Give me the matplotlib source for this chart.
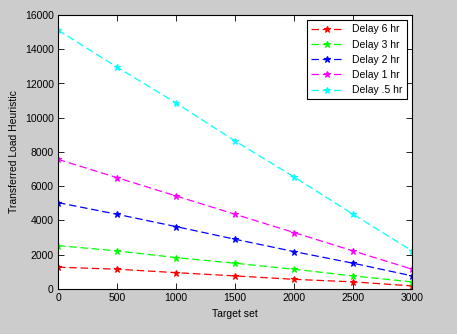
import numpy as np
import matplotlib
matplotlib.use("Agg")
import matplotlib.pyplot as plt

# data
target_set = [0, 500, 1000, 1500, 2000, 2500, 3000]
delay_6 = [1270, 1150, 950, 760, 560, 410, 175]
delay_3 = [2530, 2220, 1830, 1500, 1150, 760, 410]
delay_2 = [5040, 4360, 3640, 2900, 2180, 1500, 760]
delay_1 = [7570, 6500, 5430, 4360, 3290, 2220, 1150]
delay_05 = [15120, 12960, 10860, 8640, 6540, 4360, 2220]

labels = ["Delay 6 hr", "Delay 3 hr", "Delay 2 hr", "Delay 1 hr", "Delay .5 hr"]
colors = ["#ff0000", "#00ff00", "#0000ff", "#ff00ff", "#00ffff"]

plt.rcParams['font.family'] = ['Liberation Sans', 'DejaVu Sans']
plt.rcParams['font.size'] = 7.5

fig = plt.figure(figsize=(4.57, 3.34), dpi=100, facecolor="#cccccc")
ax = fig.add_axes([0.127, 0.135, 0.775, 0.82])

series = [delay_6, delay_3, delay_2, delay_1, delay_05]
for vals, lab, c in zip(series, labels, colors):
    ax.plot(target_set, vals, linestyle="--", dashes=(6, 3), color=c, lw=0.9,
            marker="*", markersize=5, markeredgewidth=0.8, label=lab)

ax.set_xlim(0, 3000)
ax.set_ylim(0, 16000)
ax.set_xticks(np.arange(0, 3001, 500))
ax.set_yticks(np.arange(0, 16001, 2000))
ax.tick_params(direction="in", top=True, right=True, length=4, width=0.6, pad=3)
for s in ax.spines.values():
    s.set_linewidth(0.8)

ax.set_xlabel("Target set")
ax.set_ylabel("Transferred Load Heuristic")

leg = ax.legend(loc="upper right", fancybox=False, framealpha=1, edgecolor="black",
                borderaxespad=0.5, handlelength=3.2, labelspacing=0.5, fontsize=7.5)
leg.get_frame().set_linewidth(0.8)

fig.savefig("out.png", dpi=100, facecolor=fig.get_facecolor())
